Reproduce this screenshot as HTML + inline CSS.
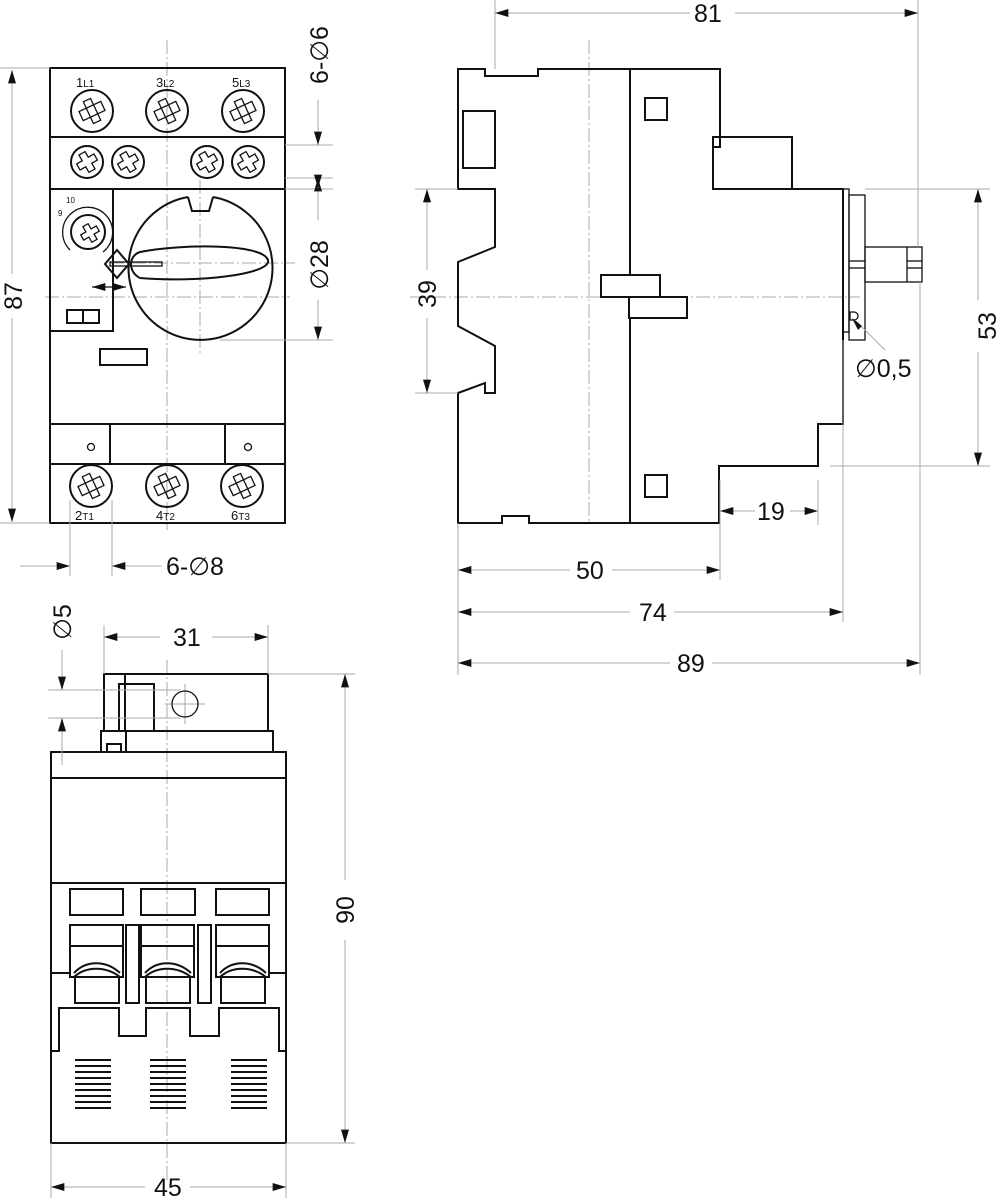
<!DOCTYPE html>
<html><head><meta charset="utf-8"><style>
html,body{margin:0;padding:0;background:#fff}
svg{display:block}
text{font-family:"Liberation Sans Narrow","Liberation Sans",sans-serif;font-size:25px;fill:#111}
.o{fill:none;stroke:#111;stroke-width:2}
.t{fill:none;stroke:#111;stroke-width:1.3}
.d{fill:none;stroke:#aaa;stroke-width:1}
.c{fill:none;stroke:#aaa;stroke-width:1;stroke-dasharray:14 3 2 3}
</style></head><body>
<svg width="1001" height="1200" viewBox="0 0 1001 1200" xmlns="http://www.w3.org/2000/svg">
<defs>
<marker id="a" viewBox="0 0 10 6" refX="10" refY="3" markerWidth="18" markerHeight="8" markerUnits="userSpaceOnUse" orient="auto-start-reverse"><path d="M0,0L10,3L0,6z" fill="#111"/></marker>
<g id="tm"><circle r="21" class="o"/><g transform="rotate(-25)"><path class="t" d="M-4,-12h8v7h8v10h-8v7h-8v-7h-8v-10h8z"/><path class="t" d="M-4,-5h8v10h-8z"/></g></g>
<g id="sc"><circle r="16" class="o"/><g transform="rotate(-30)"><path class="t" d="M-3.5,-10h7v6.5h6.5v7h-6.5v6.5h-7v-6.5h-6.5v-7h6.5z"/></g></g>
</defs>

<!-- ===== FRONT VIEW ===== -->
<line class="c" x1="167" y1="40" x2="167" y2="530"/>
<line class="c" x1="200" y1="180" x2="200" y2="355"/>
<line class="c" x1="45" y1="297" x2="290" y2="297"/>
<line class="c" x1="110" y1="263" x2="295" y2="263"/>
<rect class="o" x="50" y="68" width="235" height="455"/>
<line class="o" x1="50" y1="137" x2="285" y2="137"/>
<line class="o" x1="50" y1="189" x2="285" y2="189"/>
<line class="o" x1="50" y1="424" x2="285" y2="424"/>
<line class="o" x1="50" y1="464" x2="285" y2="464"/>
<line class="o" x1="110" y1="424" x2="110" y2="464"/>
<line class="o" x1="225" y1="424" x2="225" y2="464"/>
<circle class="t" cx="91" cy="447" r="3.5"/><circle class="t" cx="248" cy="447" r="3.5"/>
<text x="76" y="87" style="font-size:13px;font-family:'Liberation Sans',sans-serif">1<tspan style="font-size:10px">L1</tspan></text>
<text x="156" y="87" style="font-size:13px;font-family:'Liberation Sans',sans-serif">3<tspan style="font-size:10px">L2</tspan></text>
<text x="232" y="87" style="font-size:13px;font-family:'Liberation Sans',sans-serif">5<tspan style="font-size:10px">L3</tspan></text>
<use href="#tm" x="92" y="111"/><use href="#tm" x="167" y="111"/><use href="#tm" x="243" y="111"/>
<use href="#sc" x="87" y="162"/><use href="#sc" x="128" y="162"/><use href="#sc" x="207" y="162"/><use href="#sc" x="248" y="162"/>
<use href="#tm" x="91" y="486"/><use href="#tm" x="167" y="486"/><use href="#tm" x="242" y="486"/>
<text x="75" y="520" style="font-size:13px;font-family:'Liberation Sans',sans-serif">2<tspan style="font-size:10px">T1</tspan></text>
<text x="156" y="520" style="font-size:13px;font-family:'Liberation Sans',sans-serif">4<tspan style="font-size:10px">T2</tspan></text>
<text x="231" y="520" style="font-size:13px;font-family:'Liberation Sans',sans-serif">6<tspan style="font-size:10px">T3</tspan></text>
<!-- left box -->
<path class="o" d="M113,189V331H50"/>
<circle class="o" cx="88" cy="232" r="17"/>
<path class="t" d="M70,250A25,25 0 1 1 103,252" stroke-width="1"/>
<text x="66" y="203" style="font-size:8px;font-family:'Liberation Sans',sans-serif">10</text>
<text x="58" y="216" style="font-size:8px;font-family:'Liberation Sans',sans-serif">9</text>
<g transform="translate(90,233) rotate(-30)"><path class="t" d="M-3,-9h6v6h6v6h-6v6h-6v-6h-6v-6h6z"/></g>
<rect class="o" x="67" y="310" width="32" height="13"/><line class="o" x1="83" y1="310" x2="83" y2="323"/>
<rect class="o" x="100" y="349" width="47" height="16"/>
<!-- dial -->
<path class="o" d="M188,197A72,72 0 1 0 213,197"/>
<path class="o" d="M188,197L192,211H209L213,197"/>
<path class="o" d="M140,252C180,244 262,243 268,260C272,274 200,283 140,278C128,272 128,256 140,252Z"/>
<rect class="t" x="110" y="262" width="52" height="4"/>
<path class="o" d="M105,264L117,250L129,264L117,278Z"/>
<line class="t" x1="92" y1="287" x2="126" y2="287" marker-start="url(#a)" marker-end="url(#a)"/>
<!-- front dims -->
<line class="d" x1="0" y1="68" x2="50" y2="68"/><line class="d" x1="0" y1="523" x2="50" y2="523"/>
<line class="d" x1="12" y1="296" x2="12" y2="70" marker-end="url(#a)"/><line class="d" x1="12" y1="296" x2="12" y2="522" marker-end="url(#a)"/>
<rect x="2" y="274" width="22" height="44" fill="#fff"/>
<text transform="translate(22,296) rotate(-90)" text-anchor="middle">87</text>
<line class="d" x1="285" y1="145" x2="333" y2="145"/><line class="d" x1="285" y1="178" x2="333" y2="178"/>
<line class="d" x1="285" y1="189" x2="333" y2="189"/><line class="d" x1="220" y1="340" x2="333" y2="340"/>
<line class="d" x1="318" y1="100" x2="318" y2="145" marker-end="url(#a)"/>
<line class="d" x1="318" y1="220" x2="318" y2="178" marker-end="url(#a)"/>
<line class="d" x1="318" y1="178" x2="318" y2="188" marker-end="url(#a)"/>
<line class="d" x1="318" y1="300" x2="318" y2="340" marker-end="url(#a)"/>
<text transform="translate(328,55) rotate(-90)" text-anchor="middle">6-∅6</text>
<text transform="translate(328,265) rotate(-90)" text-anchor="middle">∅28</text>
<line class="d" x1="70" y1="500" x2="70" y2="576"/><line class="d" x1="112" y1="500" x2="112" y2="576"/>
<line class="d" x1="20" y1="566" x2="70" y2="566" marker-end="url(#a)"/>
<line class="d" x1="162" y1="566" x2="112" y2="566" marker-end="url(#a)"/>
<text x="166" y="575">6-∅8</text>

<!-- ===== BOTTOM VIEW ===== -->
<line class="c" x1="167" y1="660" x2="167" y2="1180"/>
<line class="d" x1="165" y1="704" x2="205" y2="704"/><line class="d" x1="185" y1="684" x2="185" y2="724"/>
<rect class="o" x="104" y="674" width="164" height="57"/>
<rect class="o" x="104" y="674" width="21" height="57"/>
<rect class="o" x="119" y="684" width="35" height="47"/>
<circle class="t" cx="185" cy="704" r="13"/>
<rect class="o" x="101" y="731" width="172" height="21"/>
<line class="o" x1="126" y1="731" x2="126" y2="752"/>
<rect class="o" x="107" y="744" width="14" height="8"/>
<rect class="o" x="51" y="752" width="235" height="391"/>
<line class="o" x1="51" y1="778" x2="286" y2="778"/>
<line class="o" x1="51" y1="883" x2="286" y2="883"/>
<rect class="o" x="70" y="889" width="53" height="26"/><rect class="o" x="141" y="889" width="54" height="26"/><rect class="o" x="216" y="889" width="53" height="26"/>
<g id="tb"><rect class="o" x="70" y="925" width="53" height="52"/><line class="o" x1="70" y1="946" x2="123" y2="946"/>
<path class="o" d="M74,973C86,960 106,960 120,973"/><path class="o" d="M74,977C86,966 106,966 120,977"/>
<rect class="o" x="75" y="977" width="44" height="26"/></g>
<use href="#tb" x="71"/><use href="#tb" x="146"/>
<rect class="o" x="126" y="925" width="13" height="78"/><rect class="o" x="198" y="925" width="13" height="78"/>
<line class="o" x1="51" y1="973" x2="70" y2="973"/><line class="o" x1="269" y1="973" x2="286" y2="973"/>
<path class="o" d="M51,1051H59V1008H119V1036H146V1008H190V1036H219V1008H279V1051H286"/>
<g stroke="#111" stroke-width="2">
<path d="M75,1060h36M75,1066h36M75,1072h36M75,1078h36M75,1084h36M75,1090h36M75,1096h36M75,1102h36M75,1108h36"/>
<path d="M150,1060h36M150,1066h36M150,1072h36M150,1078h36M150,1084h36M150,1090h36M150,1096h36M150,1102h36M150,1108h36"/>
<path d="M231,1060h36M231,1066h36M231,1072h36M231,1078h36M231,1084h36M231,1090h36M231,1096h36M231,1102h36M231,1108h36"/>
</g>
<!-- bottom dims -->
<line class="d" x1="104" y1="625" x2="104" y2="674"/><line class="d" x1="268" y1="625" x2="268" y2="674"/>
<line class="d" x1="160" y1="637" x2="104" y2="637" marker-end="url(#a)"/><line class="d" x1="212" y1="637" x2="268" y2="637" marker-end="url(#a)"/>
<text x="173" y="646">31</text>
<line class="d" x1="268" y1="674" x2="355" y2="674"/><line class="d" x1="286" y1="1143" x2="355" y2="1143"/>
<line class="d" x1="345" y1="880" x2="345" y2="674" marker-end="url(#a)"/><line class="d" x1="345" y1="940" x2="345" y2="1143" marker-end="url(#a)"/>
<text transform="translate(354,910) rotate(-90)" text-anchor="middle">90</text>
<line class="d" x1="51" y1="1143" x2="51" y2="1198"/><line class="d" x1="286" y1="1143" x2="286" y2="1198"/>
<line class="d" x1="145" y1="1187" x2="51" y2="1187" marker-end="url(#a)"/><line class="d" x1="190" y1="1187" x2="286" y2="1187" marker-end="url(#a)"/>
<text x="154" y="1196">45</text>
<line class="d" x1="48" y1="690" x2="180" y2="690"/><line class="d" x1="48" y1="718" x2="180" y2="718"/>
<line class="d" x1="62" y1="650" x2="62" y2="690" marker-end="url(#a)"/><line class="d" x1="62" y1="765" x2="62" y2="718" marker-end="url(#a)"/>
<text transform="translate(71,622) rotate(-90)" text-anchor="middle">∅5</text>

<!-- ===== SIDE VIEW ===== -->
<line class="c" x1="589" y1="40" x2="589" y2="523"/>
<line class="c" x1="410" y1="297" x2="860" y2="297"/>
<path class="o" d="M458,69H485V76H538V69H720V147H713V189H843V424H818V466H719V523H529V516H502V523H458V393L485,383V393H495V346L458,326V262L495,247V189H458Z"/>
<rect class="o" x="713" y="137" width="79" height="52"/>
<rect class="o" x="463" y="111" width="32" height="57"/>
<line class="o" x1="630" y1="69" x2="630" y2="275"/><line class="o" x1="630" y1="318" x2="630" y2="523"/>
<rect class="o" x="601" y="275" width="59" height="22"/>
<rect class="o" x="629" y="297" width="58" height="21"/>
<rect class="o" x="645" y="98" width="22" height="22"/>
<rect class="o" x="645" y="475" width="22" height="22"/>
<rect class="t" x="843" y="189" width="6" height="143"/>
<rect class="t" x="849" y="195" width="16" height="145"/>
<line class="t" x1="849" y1="261" x2="865" y2="261"/><line class="t" x1="849" y1="268" x2="865" y2="268"/>
<rect class="t" x="865" y="247" width="57" height="35"/>
<line class="t" x1="907" y1="247" x2="907" y2="282"/>
<line class="t" x1="907" y1="261" x2="922" y2="261"/><line class="t" x1="907" y1="268" x2="922" y2="268"/>
<path class="t" d="M850,312h4a4,4 0 0 1 0,8h-4z"/>
<line class="d" x1="885" y1="350" x2="855" y2="320"/>
<path d="M862,326L852,318L858,330z" fill="#111"/>
<text x="855" y="377">∅0,5</text>
<!-- side dims -->
<line class="d" x1="495" y1="0" x2="495" y2="69"/><line class="d" x1="918" y1="0" x2="918" y2="247"/>
<line class="d" x1="690" y1="13" x2="495" y2="13" marker-end="url(#a)"/><line class="d" x1="735" y1="13" x2="918" y2="13" marker-end="url(#a)"/>
<text x="694" y="22">81</text>
<line class="d" x1="415" y1="189" x2="458" y2="189"/><line class="d" x1="415" y1="393" x2="458" y2="393"/>
<line class="d" x1="427" y1="270" x2="427" y2="189" marker-end="url(#a)"/><line class="d" x1="427" y1="318" x2="427" y2="393" marker-end="url(#a)"/>
<text transform="translate(436,294) rotate(-90)" text-anchor="middle">39</text>
<line class="d" x1="865" y1="189" x2="990" y2="189"/><line class="d" x1="830" y1="466" x2="990" y2="466"/>
<line class="d" x1="978" y1="300" x2="978" y2="189" marker-end="url(#a)"/><line class="d" x1="978" y1="352" x2="978" y2="466" marker-end="url(#a)"/>
<text transform="translate(996,326) rotate(-90)" text-anchor="middle">53</text>
<line class="d" x1="720" y1="480" x2="720" y2="580"/><line class="d" x1="818" y1="480" x2="818" y2="525"/>
<line class="d" x1="755" y1="511" x2="720" y2="511" marker-end="url(#a)"/><line class="d" x1="790" y1="511" x2="818" y2="511" marker-end="url(#a)"/>
<text x="757" y="520">19</text>
<line class="d" x1="458" y1="523" x2="458" y2="675"/><line class="d" x1="843" y1="340" x2="843" y2="622"/><line class="d" x1="920" y1="282" x2="920" y2="675"/>
<line class="d" x1="570" y1="570" x2="458" y2="570" marker-end="url(#a)"/><line class="d" x1="612" y1="570" x2="720" y2="570" marker-end="url(#a)"/>
<text x="576" y="579">50</text>
<line class="d" x1="630" y1="612" x2="458" y2="612" marker-end="url(#a)"/><line class="d" x1="674" y1="612" x2="843" y2="612" marker-end="url(#a)"/>
<text x="639" y="621">74</text>
<line class="d" x1="670" y1="663" x2="458" y2="663" marker-end="url(#a)"/><line class="d" x1="712" y1="663" x2="920" y2="663" marker-end="url(#a)"/>
<text x="677" y="672">89</text>
</svg>
</body></html>
